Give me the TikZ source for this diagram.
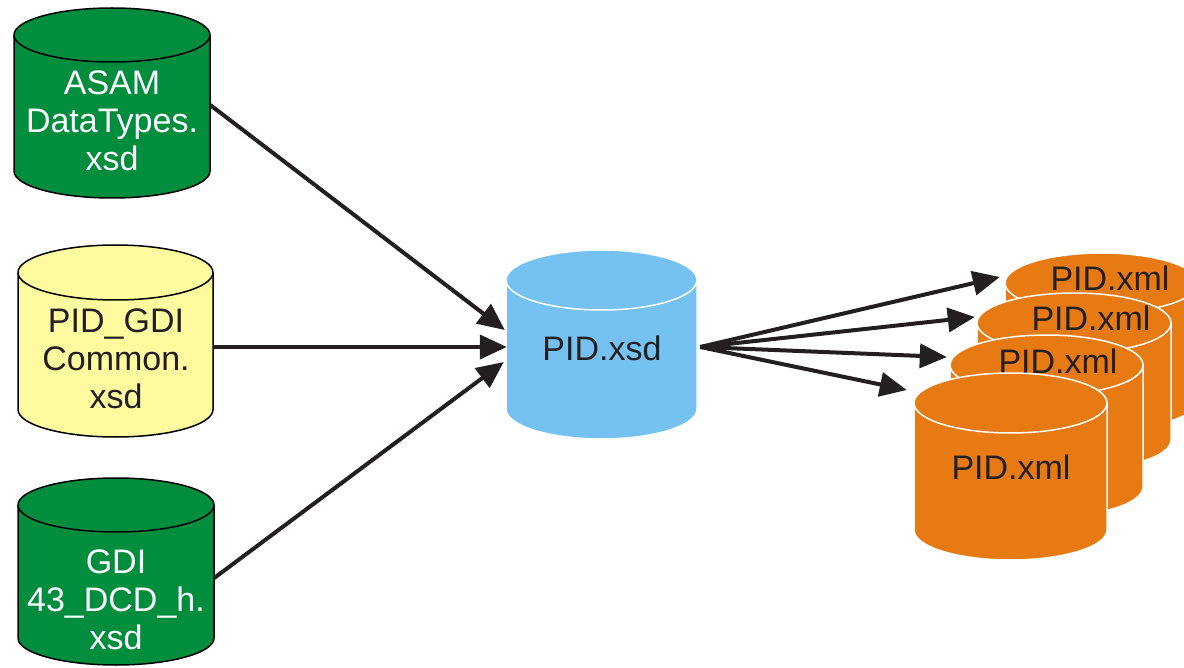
\documentclass[tikz,border=0pt]{standalone}
\usepackage{fontspec}
\setmainfont{Liberation Sans}
\usepackage{xcolor}
\usepackage{tikz}
\usetikzlibrary{arrows.meta}

\definecolor{dbgreen}{RGB}{0,142,62}
\definecolor{dbyellow}{RGB}{253,250,160}
\definecolor{dbblue}{RGB}{117,194,242}
\definecolor{dborange}{RGB}{232,122,20}
\definecolor{ink}{RGB}{35,31,32}

% drum: name, centre x, top, bottom, x radius, y radius, look
\newcommand\drum[7]{%
	\path[#7] (#2-#5,#3+#6) -- (#2-#5,#4-#6)
		arc[start angle=180,end angle=0,x radius=#5,y radius=#6] -- (#2+#5,#3+#6)
		arc[start angle=0,end angle=-180,x radius=#5,y radius=#6] -- cycle;
	\draw[#7,fill=none] (#2-#5,#3+#6) arc[start angle=180,end angle=0,x radius=#5,y radius=#6];
	\node[inner sep=0pt,minimum width=2*#5,minimum height=#4-#3] (#1) at (#2,{(#3+#4)/2}) {};
}

\begin{document}
\begin{tikzpicture}[x=1pt,y=-1pt,
	drumtext/.style={align=center, font=\fontsize{34}{38}\selectfont},
	flow/.style={-{Triangle[length=27pt,width=24pt]}, line width=4pt, draw=ink}]
			\useasboundingbox (0,0) rectangle (1184,668);

			\drum{asam}{112}{8}{198}{98}{27}{draw=black,fill=dbgreen,line width=1.5pt}
			\node[drumtext, text=white] (asamtxt) at (112,121) {ASAM\\DataTypes.\\xsd};
			\drum{common}{115.5}{245}{437}{97.5}{27.5}{draw=black,fill=dbyellow,line width=1.5pt}
			\node[drumtext, text=ink] (commontxt) at (116,359) {PID\_GDI\\Common.\\xsd};
			\drum{gdi}{116}{478}{665}{98}{27}{draw=black,fill=dbgreen,line width=1.5pt}
			\node[drumtext, text=white] (gditxt) at (116,600) {GDI\\43\_DCD\_h.\\xsd};

			\drum{pidxsd}{601.5}{250}{439}{95.5}{30}{draw=white,fill=dbblue,line width=1.5pt}
			\node[drumtext, text=ink] (pidxsdtxt) at (602,348) {PID.xsd};

			\drum{xmlD}{1101.5}{253}{430}{96.5}{30}{draw=white,fill=dborange,line width=1.5pt}
			\node[drumtext, text=ink] (xmlDtxt) at (1110,278) {PID.xml};
			\drum{xmlC}{1074}{293}{470}{97}{30}{draw=white,fill=dborange,line width=1.5pt}
			\node[drumtext, text=ink] (xmlCtxt) at (1091,318) {PID.xml};
			\drum{xmlB}{1046.5}{335}{517}{96.5}{30}{draw=white,fill=dborange,line width=1.5pt}
			\node[drumtext, text=ink] (xmlBtxt) at (1058,361) {PID.xml};
			\drum{xmlA}{1010.5}{373}{560}{96.5}{30}{draw=white,fill=dborange,line width=1.5pt}
			\node[drumtext, text=ink] (xmlAtxt) at (1011,467) {PID.xml};

			%% lines
			\draw[flow] ([yshift=-2pt]asam.east) -- ([shift={(-1,-14.5)}]pidxsd.west);
			\draw[flow] ([yshift=-6pt]common.east) -- ([shift={(1,2.5)}]pidxsd.west);
			\draw[flow] ([yshift=-6.5pt]gdi.east) -- ([shift={(-2,17.5)}]pidxsd.west);
			\draw[flow] ([shift={(3,2.5)}]pidxsd.east) -- ([shift={(-5,-64.5)}]xmlD.west);
			\draw[flow] ([shift={(3,2.5)}]pidxsd.east) -- ([shift={(-2,-64.5)}]xmlC.west);
			\draw[flow] ([shift={(3,2.5)}]pidxsd.east) -- ([shift={(-3,-69)}]xmlB.west);
			\draw[flow] ([shift={(3,2.5)}]pidxsd.east) -- ([shift={(-7,-76.5)}]xmlA.west);
		\end{tikzpicture}
\end{document}
